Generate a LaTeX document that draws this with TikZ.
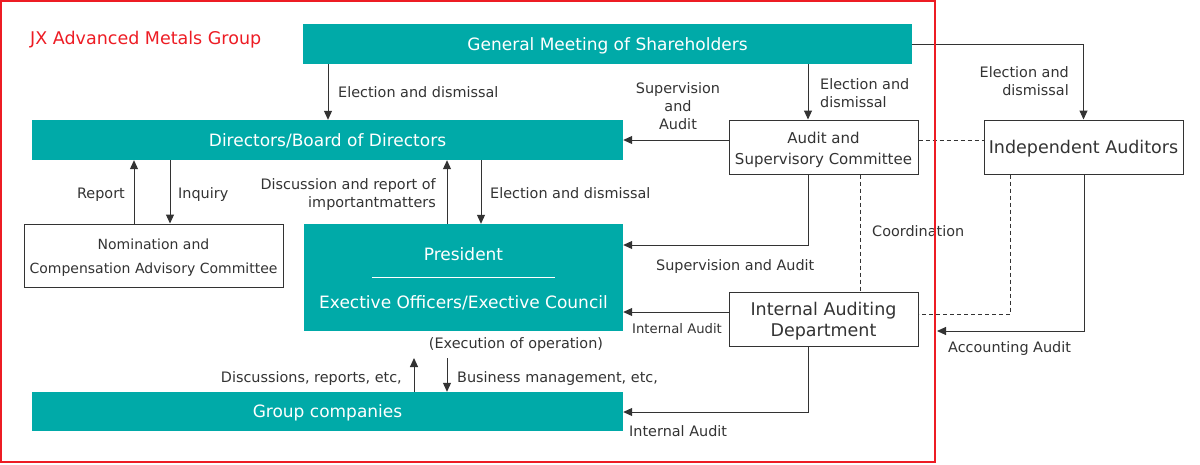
\documentclass[tikz,border=0pt]{standalone}
\usepackage{fontspec}
\setmainfont{DejaVu Sans}
\usetikzlibrary{shapes,positioning,fit,calc,arrows.meta}

\definecolor{jxteal}{HTML}{00AAA8}
\definecolor{jxred}{HTML}{ED1C24}
\definecolor{jxgray}{HTML}{333333}

\begin{document}
\begin{tikzpicture}[x=1pt,y=-1pt]

        \def\lab{\fontsize{14.4}{18}\selectfont}

        % Styles of the boxes and of the connectors
        \tikzset{
            tealbox/.style={fill=jxteal, text=white, inner sep=0pt,
                font=\fontsize{17}{21}\selectfont,
                text height=12.4pt, text depth=0pt},
            tealtext/.style={text=white, inner sep=0pt,
                font=\fontsize{17}{21}\selectfont,
                text height=12.4pt, text depth=0pt},
            whitebox/.style={draw=jxgray, fill=white, inner sep=0pt,
                line width=1pt},
            boxtext/.style={text=jxgray, inner sep=0pt, align=center},
            lbl/.style={text=jxgray, inner sep=0pt, font=\lab,
                text height=10.5pt, text depth=0pt},
            lbls/.style={text=jxgray, inner sep=0pt, font=\lab},
            conn/.style={draw=jxgray, line width=1pt,
                -{Triangle[length=9pt,width=8pt]}},
            dashconn/.style={draw=jxgray, line width=0.8pt,
                dash pattern=on 4pt off 3pt}
        }

        \useasboundingbox (0,0) rectangle (1200,464);

        % Columns and rows used by the connectors
        \begin{scope}
            \coordinate (xRep) at (134,0);
            \coordinate (xInq) at (170,0);
            \coordinate (xGB) at (328,0);
            \coordinate (xDis) at (414,0);
            \coordinate (xUp) at (447,0);
            \coordinate (xEl) at (481,0);
            \coordinate (xGA) at (808,0);
            \coordinate (xCo) at (860,0);
            \coordinate (xDa) at (1010,0);
            \coordinate (xAcc) at (1084,0);
            \coordinate (rTop) at (0,140);
            \coordinate (rSup) at (0,245);
            \coordinate (rInt) at (0,312);
            \coordinate (rDash) at (0,314);
            \coordinate (rGrp) at (0,412);
            \coordinate (opTop) at (0,358);
            \coordinate (accEnd) at (937,331);
        \end{scope}

        % Boxes
        \begin{scope}
            \node[tealbox, minimum width=609pt, minimum height=40pt] (gms)
                at (607.5,44) {General Meeting of Shareholders};
            \node[tealbox, minimum width=591pt, minimum height=40pt] (bod)
                at (327.5,140) {Directors/Board of Directors};
            \node[whitebox, minimum width=259pt, minimum height=63pt] (nom)
                at (153.5,255.5) {};
            \node[boxtext, font=\fontsize{14}{23.5}\selectfont] (nomt)
                at (153.5,257.5) {Nomination and\\Compensation Advisory Committee};
            \node[tealbox, minimum width=319pt, minimum height=107pt] (pres)
                at (463.5,277.5) {};
            \node[tealtext] (prest) at (463.5,254.5) {President};
            \draw[white, line width=1pt] (372,277) -- (555,277);
            \node[tealtext] (exec) at (463.5,302.3)
                {Exective Officers/Exective Council};
            \node[tealbox, minimum width=591pt, minimum height=39pt] (grp)
                at (327.5,411.5) {Group companies};
            \node[whitebox, minimum width=189pt, minimum height=54pt] (asc)
                at (823.5,147) {};
            \node[boxtext, font=\fontsize{15}{21}\selectfont] (asct)
                at (823.5,149.5) {Audit and\\Supervisory Committee};
            \node[whitebox, minimum width=199pt, minimum height=54pt,
                text=jxgray, font=\fontsize{17.5}{21}\selectfont,
                text height=12.8pt, text depth=0pt] (ia)
                at (1083.5,147) {Independent Auditors};
            \node[whitebox, minimum width=189pt, minimum height=54pt] (iad)
                at (823.5,319) {};
            \node[boxtext, font=\fontsize{17.5}{21}\selectfont] (iadt)
                at (823.5,321) {Internal Auditing\\Department};
        \end{scope}

        % Connectors
        \begin{scope}
            \draw[conn] (xRep |- nom.north) -- (xRep |- bod.south);
            \draw[conn] (xInq |- bod.south) -- (xInq |- nom.north);
            \draw[conn] (xGB |- gms.south) -- (xGB |- bod.north);
            \draw[conn] (xUp |- pres.north) -- (xUp |- bod.south);
            \draw[conn] (xEl |- bod.south) -- (xEl |- pres.north);
            \draw[conn] (xGA |- gms.south) -- (xGA |- asc.north);
            \draw[conn] (gms.east) -| (ia.north);
            \draw[conn] (asc.west |- rTop) -- (bod.east |- rTop);
            \draw[dashconn] (asc.east |- rTop) -- (ia.west |- rTop);
            \draw[conn] (xGA |- asc.south) |- (pres.east |- rSup);
            \draw[dashconn] (xCo |- asc.south) -- (xCo |- iad.north);
            \draw[dashconn] (xDa |- ia.south) |- (iad.east |- rDash);
            \draw[conn] (xAcc |- ia.south) |- (accEnd);
            \draw[conn] (iad.west |- rInt) -- (pres.east |- rInt);
            \draw[conn] (xGA |- iad.south) |- (grp.east |- rGrp);
            \draw[conn] (xDis |- grp.north) -- (xDis |- opTop);
            \draw[conn] (xUp |- opTop) -- (xUp |- grp.north);
        \end{scope}

        % Labels of the connectors
        \node[lbl, anchor=east] (lRep) at (125,193) {Report};
        \node[lbl, anchor=west] (lInq) at (178,193) {Inquiry};
        \node[lbl, anchor=west] (lElB) at (338,92) {Election and dismissal};
        \node[lbls, anchor=east, align=right] (lDisc) at (436,194.5)
            {Discussion and report of\\importantmatters};
        \node[lbl, anchor=west] (lElP) at (490,193) {Election and dismissal};
        \node[lbls, anchor=west, align=left] (lElA) at (820,93)
            {Election and\\dismissal};
        \node[lbls, anchor=east, align=right] (lElI) at (1069,81)
            {Election and\\dismissal};
        \node[lbls, align=center] (lSupB) at (678,106.5)
            {Supervision\\and\\Audit};
        \node[lbl, anchor=west] (lSupP) at (656,265) {Supervision and Audit};
        \node[lbl, anchor=west] (lCo) at (872,231) {Coordination};
        \node[lbl, anchor=west, font=\fontsize{13.2}{16}\selectfont,
            text height=9.6pt] (lIntP) at (632,329) {Internal Audit};
        \node[lbl, anchor=west] (lAcc) at (948,347) {Accounting Audit};
        \node[lbl, anchor=west] (lIntG) at (629,431) {Internal Audit};
        \node[lbl] (lExe) at (516,343) {(Execution of operation)};
        \node[lbl, anchor=east] (lDiscG) at (402,377) {Discussions, reports, etc,};
        \node[lbl, anchor=west] (lBus) at (457,377) {Business management, etc,};

        % Frame of the group
        \draw[jxred, line width=2pt] (1,1) rectangle (934.5,462);
        \node[text=jxred, inner sep=0pt, anchor=west,
            font=\fontsize{17.5}{21}\selectfont,
            text height=12.8pt, text depth=0pt] (grpname) at (30,38.5)
            {JX Advanced Metals Group};

\end{tikzpicture}
\end{document}
